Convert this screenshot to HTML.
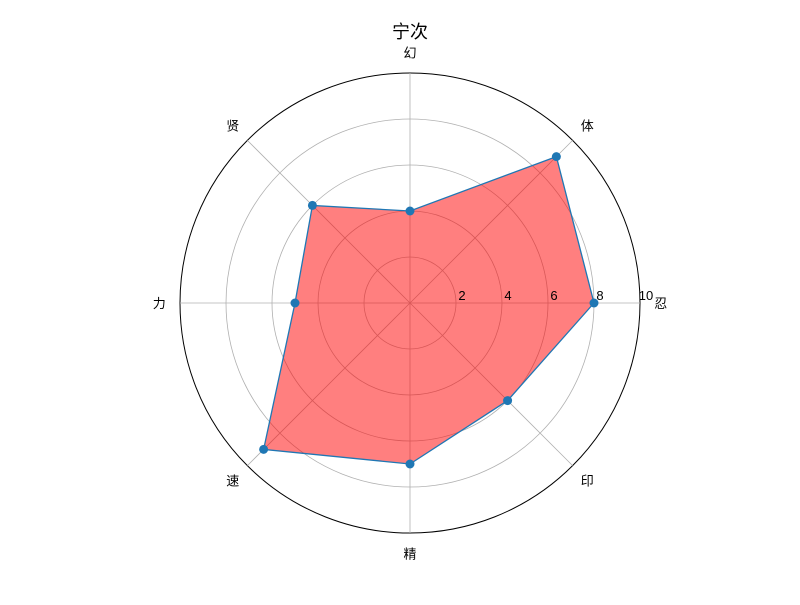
<!DOCTYPE html>
<html><head><meta charset="utf-8"><style>
body{margin:0;background:#fff}
svg text{font-family:"Liberation Sans","Noto Sans CJK SC",sans-serif}
</style></head><body>
<svg width="800" height="600" id="chart" xmlns="http://www.w3.org/2000/svg">
<rect width="800" height="600" fill="#fff"/>
<text x="410" y="38" text-anchor="middle" font-size="18">宁次</text>
<g id="grid"></g><g id="series"></g><g id="labels"></g>
</svg>
<script>
const categories=["忍","体","幻","贤","力","速","精","印"];
const values=[8,9,4,6,5,9,7,6];
const ticks=[2,4,6,8,10];
const cx=410,cy=303,R=230,maxV=10,NS="http://www.w3.org/2000/svg";
function rs(v){return v/maxV*R;}
function ang(i){return i*2*Math.PI/categories.length;}
function pt(i,v){return [cx+rs(v)*Math.cos(ang(i)),cy-rs(v)*Math.sin(ang(i))];}
function mk(tag,attrs,parent){const e=document.createElementNS(NS,tag);for(const k in attrs)e.setAttribute(k,attrs[k]);document.getElementById(parent).appendChild(e);return e;}
ticks.forEach((t,j)=>{
 const c=mk('circle',{cx:cx,cy:cy,r:rs(t),fill:'none',stroke:t===maxV?'#000':'#b0b0b0','stroke-width':t===maxV?1:0.8},'grid');
 
 
 const tx=mk('text',{x:cx+rs(t)+6,y:cy-3,'font-size':13,'text-anchor':'middle'},'labels');
 tx.textContent=t;
 
 
});
categories.forEach((c,i)=>{
 const [x,y]=pt(i,maxV);
 const l=mk('line',{x1:cx,y1:cy,x2:x,y2:y,stroke:'#b0b0b0','stroke-width':0.8},'grid');
 
 
 const [lx,ly]=pt(i,maxV*1.09);
 const t=mk('text',{x:lx,y:ly+5,'font-size':13,'text-anchor':'middle'},'labels');
 t.textContent=c;
 
 
});
const pts=values.map((v,i)=>pt(i,v));
const poly=mk('polygon',{points:pts.map(p=>p.join(',')).join(' '),fill:'rgba(255,0,0,0.5)',stroke:'#1f77b4','stroke-width':1.3},'series');


pts.forEach(p=>{
 const m=mk('circle',{cx:p[0],cy:p[1],r:4.5,fill:'#1f77b4'},'series');
 
 
});
</script>
</body></html>
